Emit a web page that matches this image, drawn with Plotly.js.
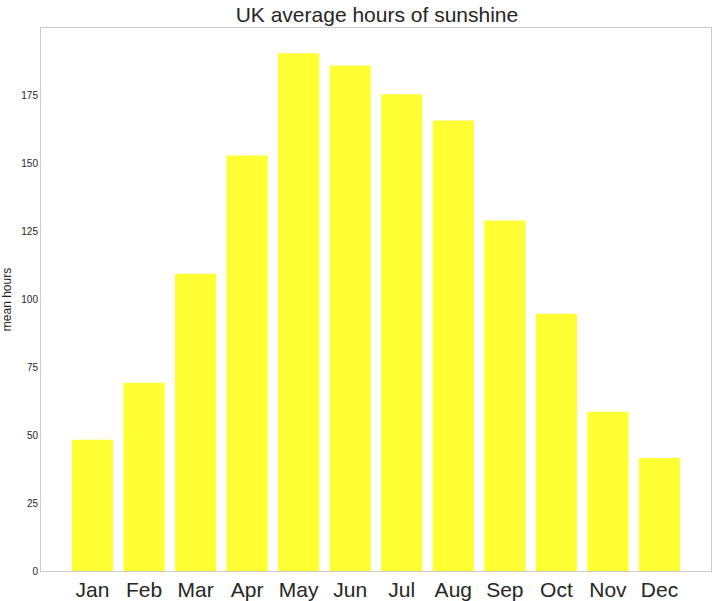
<!DOCTYPE html>
<html>
<head>
<script src="https://cdn.plot.ly/plotly-3.0.1.min.js"></script>
<style>body{margin:0}</style>
</head>
<body>
<div id="chart" style="width:718px;height:601px"></div>
<script>
var months = ['Jan','Feb','Mar','Apr','May','Jun','Jul','Aug','Sep','Oct','Nov','Dec']
var hours = [48.3, 69.3, 109.4, 152.9, 190.5, 186.0, 175.4, 165.8, 129.0, 94.7, 58.6, 41.6]
var yticks = [0, 25, 50, 75, 100, 125, 150, 175]

var bars = {
	x: months.map((m, i) => i),
	y: hours,
	type: 'bar',
	width: 0.8,
	marker: {color: 'rgba(255,255,0,0.8)'},
	hoverinfo: 'y'
}

var layout = {
	width: 718,
	height: 601,
	margin: {l: 41, r: 7, t: 28, b: 30},
	font: {family: 'Liberation Sans, Arial, sans-serif', color: '#262626'},
	title: {text: 'UK average hours of sunshine', font: {size: 21}, x: 0.525, y: 0.975, yanchor: 'middle'},
	plot_bgcolor: 'white',
	paper_bgcolor: 'white',
	showlegend: false,
	xaxis: {
		range: [-1, 12],
		tickvals: months.map((m, i) => i),
		ticktext: months,
		tickfont: {size: 21},
		showgrid: false, zeroline: false,
		showline: true, mirror: true, linecolor: '#cccccc', linewidth: 1,
		ticks: ''
	},
	yaxis: {
		range: [0, 199.8],
		tickvals: yticks,
		tickfont: {size: 10},
		title: {text: 'mean hours', font: {size: 12}, standoff: 8},
		showgrid: false, zeroline: false,
		showline: true, mirror: true, linecolor: '#cccccc', linewidth: 1,
		ticks: ''
	}
}

Plotly.newPlot('chart', [bars], layout, {displayModeBar: false})
</script>
</body>
</html>
